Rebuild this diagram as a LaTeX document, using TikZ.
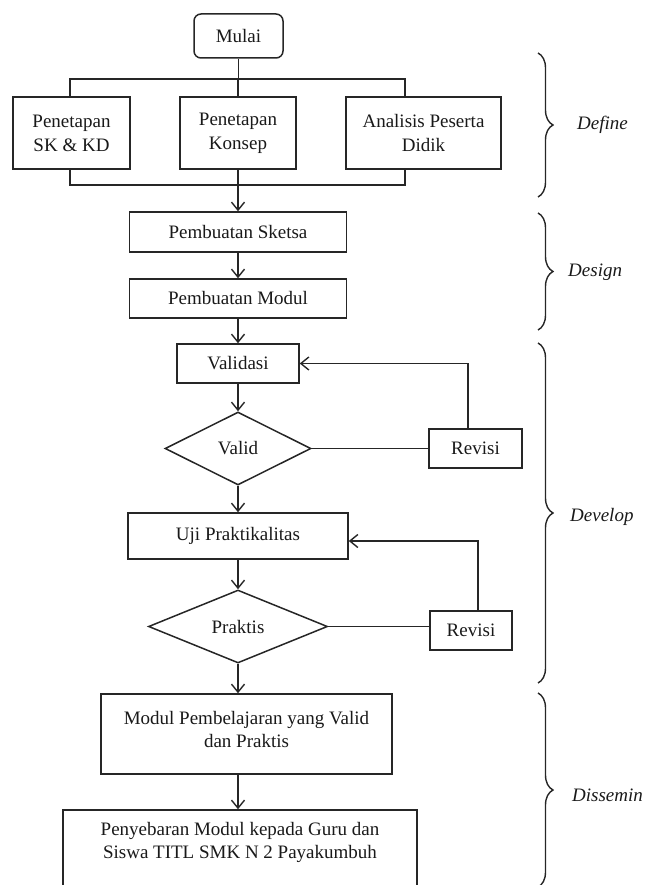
\documentclass[tikz,border=0pt]{standalone}
\usepackage{fontspec}
\setmainfont{Liberation Serif}
\usetikzlibrary{shapes.geometric,arrows.meta,decorations.pathreplacing,calc}
\begin{document}
\begin{tikzpicture}[x=1pt,y=-1pt,
  font=\fontsize{19}{24}\selectfont,
  box/.style={draw=black!85, line width=1.5pt, rectangle, inner sep=0pt, align=center, text=black!90},
  dia/.style={draw=black!85, line width=1.5pt, diamond, aspect=2, inner sep=0pt, text=black!90},
  txt/.style={align=center, text=black!90, inner sep=0pt},
  ln/.style={draw=black!85, line width=1.4pt},
  arr/.style={ln, -{Straight Barb[length=8pt,width=13pt,line width=1.4pt]}},
  brc/.style={draw=black!85, line width=1.4pt, decorate, decoration={brace, amplitude=15pt}},
  phase/.style={anchor=west, font=\fontsize{19}{23}\selectfont\itshape, text=black!90, inner sep=0pt}
]
\useasboundingbox (0,0) rectangle (649,885);

% nodes
\node[box, rounded corners=7pt, minimum width=89pt, minimum height=44pt] (mulai) at (238.5,36) {Mulai};
\node[box, minimum width=117pt, minimum height=72pt] (b1) at (71.5,133) {Penetapan\\SK \& KD};
\node[box, minimum width=116pt, minimum height=72pt] (b2) at (238,133) {Penetapan\\Konsep};
\node[box, minimum width=155pt, minimum height=72pt] (b3) at (423.5,133) {Analisis Peserta\\Didik};

\node[box, minimum width=217pt, minimum height=40pt] (sketsa) at (238,232) {Pembuatan Sketsa};
\node[box, minimum width=217pt, minimum height=39pt] (modul) at (238,298.5) {Pembuatan Modul};
\node[box, minimum width=122pt, minimum height=39pt] (validasi) at (238,363.5) {Validasi};
\node[dia, minimum width=146pt, minimum height=73pt] (valid) at (238,448.5) {Valid};
\node[box, minimum width=93pt, minimum height=39pt] (revisi1) at (475.5,448.5) {Revisi};
\node[box, minimum width=220pt, minimum height=46pt] (uji) at (238,536) {Uji Praktikalitas};
\node[dia, minimum width=179pt, minimum height=73pt] (praktis) at (238,626.5) {Praktis};
\node[box, minimum width=82pt, minimum height=39pt] (revisi2) at (471,630.5) {Revisi};
\node[box, minimum width=291pt, minimum height=80pt] (mp) at (246.5,734) {};
\node[txt, font=\fontsize{19}{23}\selectfont] (mptext) at (246.5,729) {Modul Pembelajaran yang Valid\\dan Praktis};
\node[box, minimum width=354pt, minimum height=82pt] (peny) at (240,851) {};
\node[txt, font=\fontsize{19}{23}\selectfont] (penytext) at (240,842) {Penyebaran Modul kepada Guru dan\\Siswa TITL SMK N 2 Payakumbuh};

% define branching
\coordinate (tl) at (70,79);
\coordinate (tr) at (405,79);
\coordinate (bl) at (70,185);
\coordinate (br) at (405,185);
\draw[ln] (mulai.south) -- (mulai.south |- tl);
\draw[ln] (tl |- b1.north) -- (tl) -- (tr) -- (tr |- b3.north);
\draw[ln] (b2.north |- tl) -- (b2.north);
\draw[ln] (bl |- b1.south) -- (bl) -- (br) -- (br |- b3.south);
\draw[ln] (b2.south) -- (b2.south |- bl);

% main flow
\draw[arr] (sketsa.north |- bl) -- (sketsa.north);
\draw[arr] (sketsa) -- (modul);
\draw[arr] (modul) -- (validasi);
\draw[arr] (validasi) -- (valid);
\draw[arr] (valid) -- (uji);
\draw[arr] (uji) -- (praktis);
\draw[arr] (praktis.south) -- (praktis.south |- mp.north);
\draw[arr] (mp.south -| praktis.south) -- (peny.north -| praktis.south);

% feedback loops
\draw[ln] (valid.east) -- (valid.east -| revisi1.west);
\draw[arr] ($(revisi1.north)+(-7.5,0)$) |- (validasi.east);
\draw[ln] (praktis.east) -- (praktis.east -| revisi2.west);
\draw[arr] ($(revisi2.north)+(7,0)$) |- ($(uji.east)+(0,5)$);

% phase braces
\draw[brc] (538,53) -- (538,197);
\draw[brc] (538,213) -- (538,330);
\draw[brc] (538,343) -- (538,683);
\draw[brc] (538,693) -- (538,887);
\node[phase] (define) at (577,125) {Define};
\node[phase] (design) at (568,272) {Design};
\node[phase] (develop) at (570,517) {Develop};
\node[phase] (dissemin) at (572,795) {Dissemin};
\end{tikzpicture}
\end{document}
